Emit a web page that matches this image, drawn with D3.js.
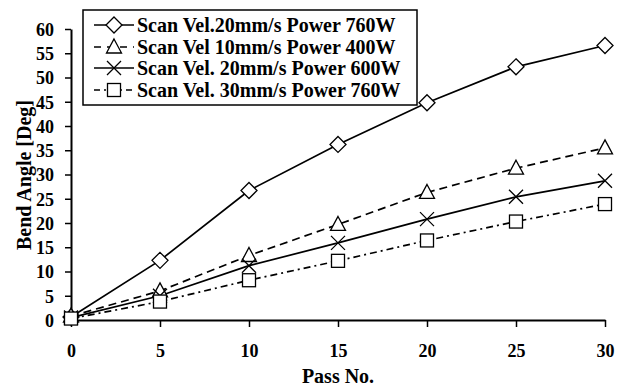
<!DOCTYPE html>
<html><head><meta charset="utf-8">
<script src="https://cdn.jsdelivr.net/npm/d3@7"></script>
<style>body{margin:0;background:#fff}svg{display:block}</style>
</head><body>
<svg id="c" width="621" height="387"></svg>
<script>
const passes = [0, 5, 10, 15, 20, 25, 30];
const s760_20 = [0.6, 12.3, 26.7, 36.2, 44.8, 52.2, 56.6];
const s400_10 = [0.8, 6.0, 13.3, 19.7, 26.3, 31.3, 35.5];
const s600_20 = [0.5, 5.0, 11.2, 15.9, 20.8, 25.4, 28.7];
const s760_30 = [0.3, 3.8, 8.2, 12.2, 16.4, 20.3, 23.9];
const seriesNames = ["Scan Vel.20mm/s Power 760W","Scan Vel 10mm/s Power 400W","Scan Vel. 20mm/s Power 600W","Scan Vel. 30mm/s Power 760W"];
const xTicks = [0,5,10,15,20,25,30];
const yTicks = [0,5,10,15,20,25,30,35,40,45,50,55,60];

const series = [
  {name: seriesNames[0], values: s760_20, marker: "diamond", dash: null},
  {name: seriesNames[1], values: s400_10, marker: "triangle", dash: "8,5"},
  {name: seriesNames[2], values: s600_20, marker: "cross", dash: null},
  {name: seriesNames[3], values: s760_30, marker: "square", dash: "7,4,2,4"}
];

const svg = d3.select("#c");
const font = "'Liberation Serif','Times New Roman',serif";
const x = d3.scaleLinear().domain([0,30]).range([71,605]);
const y = d3.scaleLinear().domain([0,60]).range([320,29]);

// axes
const xa = svg.append("g").attr("transform","translate(0,320)")
  .call(d3.axisBottom(x).tickValues(xTicks).tickSize(7).tickPadding(17).tickSizeOuter(0));
const ya = svg.append("g").attr("transform","translate(71,0)")
  .call(d3.axisLeft(y).tickValues(yTicks).tickSize(6).tickPadding(11).tickSizeOuter(0));
[xa, ya].forEach(a => {
  a.select(".domain").attr("stroke","#000").attr("stroke-width",2);
  a.selectAll(".tick line").attr("stroke","#000").attr("stroke-width",1.5);
  a.selectAll(".tick text").attr("font-family",font).attr("font-weight","bold")
    .attr("font-size",18).attr("fill","#000");
});
ya.selectAll(".tick text").attr("dy","0.35em");

svg.append("text").attr("x",338).attr("y",383).attr("text-anchor","middle")
  .attr("font-family",font).attr("font-weight","bold").attr("font-size",20).text("Pass No.");
svg.append("text").attr("transform","translate(31,175) rotate(-90)").attr("text-anchor","middle")
  .attr("font-family",font).attr("font-weight","bold").attr("font-size",20).text("Bend Angle [Deg]");

function drawMarker(g, type, cx, cy) {
  const st = s => s.attr("fill","#fff").attr("stroke","#000").attr("stroke-width",1.3);
  if (type === "diamond") {
    st(g.append("path").attr("d",`M${cx},${cy-8}L${cx+8},${cy}L${cx},${cy+8}L${cx-8},${cy}Z`));
  } else if (type === "triangle") {
    st(g.append("path").attr("d",`M${cx},${cy-8}L${cx+7.5},${cy+6}L${cx-7.5},${cy+6}Z`));
  } else if (type === "square") {
    st(g.append("rect").attr("x",cx-6.5).attr("y",cy-6.5).attr("width",13).attr("height",13));
  } else if (type === "cross") {
    g.append("path").attr("d",`M${cx-7},${cy-7}L${cx+7},${cy+7}M${cx-7},${cy+7}L${cx+7},${cy-7}`)
      .attr("stroke","#000").attr("stroke-width",1.3).attr("fill","none");
  }
}

const line = d3.line().x((d,i)=>x(passes[i])).y(d=>y(d));
series.forEach(s => {
  svg.append("path").datum(s.values).attr("d",line).attr("fill","none")
    .attr("stroke","#000").attr("stroke-width",1.7)
    .attr("stroke-dasharray", s.dash);
});
series.forEach(s => {
  const g = svg.append("g");
  s.values.forEach((v,i) => drawMarker(g, s.marker, x(passes[i]), y(v)));
});

// legend
const lg = svg.append("g");
lg.append("rect").attr("x",83).attr("y",10).attr("width",334).attr("height",95)
  .attr("fill","#fff").attr("stroke","#000").attr("stroke-width",1.5);
const rows = [25,47,68,90];
series.forEach((s,i) => {
  const yy = rows[i];
  lg.append("line").attr("x1",94).attr("x2",134).attr("y1",yy).attr("y2",yy)
    .attr("stroke","#000").attr("stroke-width",1.7).attr("stroke-dasharray", s.dash ? (i===1?"7,6":"6,4,2,4") : null);
  drawMarker(lg, s.marker, 114, yy);
  lg.append("text").attr("x",137).attr("y",yy).attr("dy","0.35em")
    .attr("font-family",font).attr("font-weight","bold").attr("font-size",20).text(s.name);
});
</script>
</body></html>
